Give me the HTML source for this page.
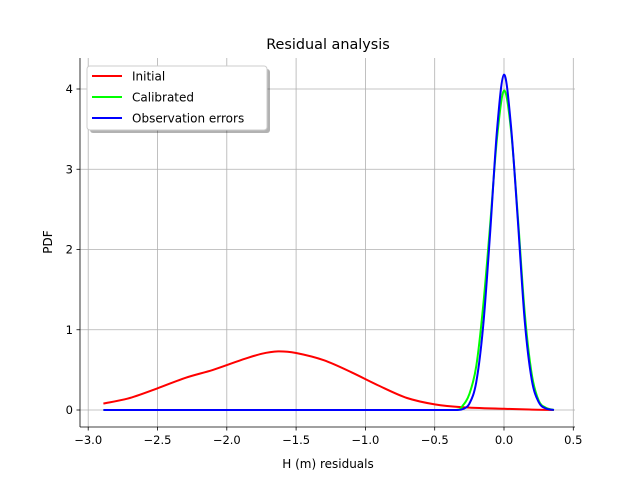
<!DOCTYPE html>
<html><head><meta charset="utf-8"><style>
body{margin:0;background:#fff;font-family:"Liberation Sans","DejaVu Sans",sans-serif}
svg text{font-family:"DejaVu Sans","Liberation Sans",sans-serif;fill:#000}
</style></head><body>
<svg id="chart" width="640" height="480" xmlns="http://www.w3.org/2000/svg">
<rect width="640" height="480" fill="#fff"/>
<g id="grid"></g>
<g id="series"></g>
<g id="axes"></g>
<text x="328" y="49" font-size="14.4" text-anchor="middle">Residual analysis</text>
<text x="328" y="468" font-size="12" text-anchor="middle">H (m) residuals</text>
<text transform="translate(52,242) rotate(-90)" font-size="12" text-anchor="middle">PDF</text>
<g>
<rect x="90" y="69" width="180" height="64" rx="3" fill="#000" opacity="0.3"/>
<rect x="87" y="66" width="180" height="64" rx="3" fill="#fff" stroke="#ccc"/>
<line x1="92" y1="76" x2="122" y2="76" stroke="#f00" stroke-width="2"/>
<text x="132" y="80.5" font-size="12">Initial</text>
<line x1="92" y1="97" x2="122" y2="97" stroke="#0f0" stroke-width="2"/>
<text x="132" y="101.5" font-size="12">Calibrated</text>
<line x1="92" y1="118" x2="122" y2="118" stroke="#00f" stroke-width="2"/>
<text x="132" y="122.5" font-size="12">Observation errors</text>
</g>
</svg>
<script>
const xTicks=[-3.0,-2.5,-2.0,-1.5,-1.0,-0.5,0.0,0.5];
const xTickLabels=["−3.0","−2.5","−2.0","−1.5","−1.0","−0.5","0.0","0.5"];
const yTicks=[0,1,2,3,4];
const yTickLabels=["0","1","2","3","4"];
const initialX=[-2.89,-2.7,-2.5,-2.3,-2.1,-1.9,-1.75,-1.63,-1.5,-1.3,-1.1,-0.9,-0.7,-0.5,-0.3,0,0.2,0.36];
const initialY=[0.08,0.15,0.27,0.4,0.5,0.62,0.7,0.73,0.71,0.62,0.47,0.3,0.15,0.07,0.035,0.015,0.005,0];
const calibratedX=[-2.89,-0.35,-0.3,-0.25,-0.2,-0.15,-0.1,-0.05,0,0.05,0.1,0.15,0.2,0.25,0.3,0.36];
const calibratedY=[0,0,0.05,0.2,0.55,1.3,2.3,3.4,3.98,3.5,2.4,1.2,0.45,0.12,0.03,0];
const obsX=[-2.89,-0.35,-0.3,-0.25,-0.2,-0.15,-0.1,-0.05,0,0.05,0.1,0.15,0.2,0.25,0.3,0.36];
const obsY=[0,0,0.01,0.08,0.35,1.05,2.2,3.5,4.18,3.55,2.35,1.1,0.38,0.1,0.02,0];
const NS="http://www.w3.org/2000/svg";
const X0=80,X1=575,Y0=427,Y1=58;
const sx=v=>504+(v-0)*138.6;
const sy=v=>410-v*80.25;
function mk(tag,attrs,parent){const e=document.createElementNS(NS,tag);for(const k in attrs)e.setAttribute(k,attrs[k]);parent.appendChild(e);return e;}
const grid=document.getElementById('grid'),axes=document.getElementById('axes'),series=document.getElementById('series');
xTicks.forEach((t,i)=>{const x=sx(t);
 const g=mk('line',{x1:x,x2:x,y1:Y1,y2:Y0,stroke:'#b0b0b0','stroke-width':0.8},grid);
 
 
 mk('line',{x1:x,x2:x,y1:Y0,y2:Y0+3.5,stroke:'#000','stroke-width':0.8},axes);
 const tx=mk('text',{x:x,y:Y0+17,'font-size':11.5,'text-anchor':'middle'},axes);tx.textContent=xTickLabels[i];
 
 
});
yTicks.forEach((t,i)=>{const y=sy(t);
 const g=mk('line',{x1:X0,x2:X1,y1:y,y2:y,stroke:'#b0b0b0','stroke-width':0.8},grid);
 
 
 mk('line',{x1:X0-3.5,x2:X0,y1:y,y2:y,stroke:'#000','stroke-width':0.8},axes);
 const tx=mk('text',{x:X0-7,y:y+4,'font-size':11.5,'text-anchor':'end'},axes);tx.textContent=yTickLabels[i];
 
 
});
const ls=mk('line',{x1:X0,x2:X0,y1:Y1,y2:Y0,stroke:'#000','stroke-width':0.8},axes);


const bs=mk('line',{x1:X0,x2:X1,y1:Y0,y2:Y0,stroke:'#000','stroke-width':0.8},axes);


function draw(xs,ys,color,name){
 const P=xs.map((x,i)=>[sx(x),sy(ys[i])]);
 let d='M'+P[0][0].toFixed(1)+','+P[0][1].toFixed(1);
 const cl=(v,a,b)=>Math.max(Math.min(a,b),Math.min(Math.max(a,b),v));
 for(let i=0;i<P.length-1;i++){
  const p0=P[Math.max(0,i-1)],p1=P[i],p2=P[i+1],p3=P[Math.min(P.length-1,i+2)];
  const t=1/6;
  let c1x=cl(p1[0]+(p2[0]-p0[0])*t,p1[0],p2[0]),c2x=cl(p2[0]-(p3[0]-p1[0])*t,p1[0],p2[0]);
  let c1y=Math.min(p1[1]+(p2[1]-p0[1])*t,410),c2y=Math.min(p2[1]-(p3[1]-p1[1])*t,410);
  d+='C'+c1x.toFixed(1)+','+c1y.toFixed(1)+' '+c2x.toFixed(1)+','+c2y.toFixed(1)+' '+p2[0].toFixed(1)+','+p2[1].toFixed(1);
 }
 const p=mk('path',{d:d,fill:'none',stroke:color,'stroke-width':2,'stroke-linejoin':'round'},series);
 
 
}
draw(initialX,initialY,'#f00','initial-line');
draw(calibratedX,calibratedY,'#0f0','calibrated-line');
draw(obsX,obsY,'#00f','observation-errors-line');
</script>
</body></html>
